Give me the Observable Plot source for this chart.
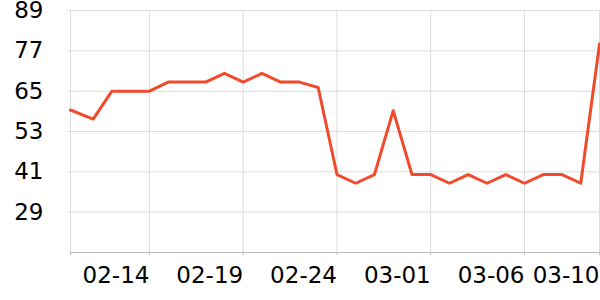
<!DOCTYPE html>
<html><head><meta charset="utf-8">
<script src="https://cdn.jsdelivr.net/npm/d3@7"></script>
<script src="https://cdn.jsdelivr.net/npm/@observablehq/plot@0.6"></script>
<style>body{margin:0;background:#fff;} svg{display:block;}</style>
</head><body><div id="chart"></div>
<script>
const year = 2023;
const times = ["02-09T19:00","02-11","02-12","02-13","02-14","02-15","02-16","02-17","02-18","02-19",
  "02-20","02-21","02-22","02-23","02-24","02-25","02-26","02-27","02-28","03-01",
  "03-02","03-03","03-04","03-05","03-06","03-07","03-08","03-09","03-10"];
const values = [59.4, 56.7, 65, 65, 65, 67.7, 67.7, 67.7, 70.3, 67.7,
  70.3, 67.7, 67.7, 66.1, 40.2, 37.6, 40.2, 59.2, 40.2, 40.2,
  37.6, 40.2, 37.6, 40.2, 37.6, 40.2, 40.2, 37.6, 79];
const yTicks = [29, 41, 53, 65, 77, 89];
const xTickLabels = ["02-14", "02-19", "02-24", "03-01", "03-06", "03-10"];

const parse = s => new Date(`${year}-${s.includes("T") ? s : s + "T00:00"}:00Z`);
const data = times.map((d, i) => ({date: parse(d), value: values[i]}));
const xTicks = xTickLabels.map(parse);
const start = parse(times[0]);
const end = parse(times[times.length - 1]);
const gridTicks = [start, ...xTicks];
const fmt = d3.utcFormat("%m-%d");

const chart = Plot.plot({
  width: 600, height: 300,
  marginLeft: 70, marginRight: 1, marginTop: 10, marginBottom: 48,
  style: {fontFamily: "DejaVu Sans", fontSize: "23px", background: "#fff", color: "#000"},
  x: {type: "utc", domain: [start, end]},
  y: {domain: [17, 89]},
  marks: [
    Plot.gridY(yTicks, {stroke: "#dddddd", strokeOpacity: 1}),
    Plot.gridX(gridTicks, {stroke: "#dddddd", strokeOpacity: 1}),
    Plot.axisY(yTicks, {tickSize: 2, tickPadding: 25, stroke: "#dddddd", label: null, fontSize: 23}),
    Plot.ruleY([17], {stroke: "#bbbbbb"}),
    Plot.axisX(gridTicks, {tickSize: 3, tickPadding: 11, stroke: "#bbbbbb", label: null,
      textAnchor: "end", fontSize: 23,
      tickFormat: (d, i) => i === 0 ? "" : fmt(d)}),
    Plot.lineY(data, {x: "date", y: "value", stroke: "#ef4b2c", strokeWidth: 3})
  ]
});
document.getElementById("chart").append(chart);
</script>
</body></html>
